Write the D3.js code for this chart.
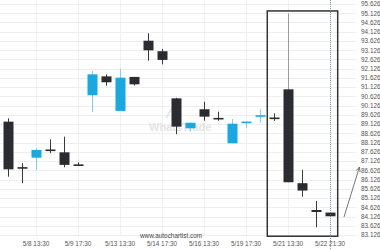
<!DOCTYPE html>
<html><head><meta charset="utf-8">
<script src="https://cdn.jsdelivr.net/npm/d3@7"></script>
<style>html,body{margin:0;padding:0;background:#fff;}svg{display:block;}</style>
</head><body><svg id="c" width="380" height="250"></svg>
<script>
const openV  = [89.26,86.76,87.31,87.72,87.60,86.93,90.69,91.71,89.84,91.68,93.64,93.07,90.52,88.90,89.93,89.43,88.09,89.21,89.55,89.45,91.01,85.93,84.48,84.34];
const highV  = [89.44,87.01,87.83,88.30,88.45,87.06,92.00,91.82,92.11,91.68,94.04,93.19,90.55,89.21,90.34,89.80,89.40,89.26,89.95,89.71,95.12,86.65,84.97,84.34];
const lowV   = [86.28,85.93,86.64,87.55,86.79,86.86,89.77,91.21,89.84,91.21,92.56,92.36,88.58,88.72,89.31,89.31,88.09,88.90,89.20,89.30,85.98,85.20,83.55,84.14];
const closeV = [86.68,86.75,87.73,87.70,86.92,86.88,91.82,91.39,91.64,91.28,93.12,92.60,88.99,89.20,89.53,89.41,89.15,89.23,89.58,89.43,85.98,85.53,84.37,84.14];
const yTicks = [95.626,95.126,94.626,94.126,93.626,93.126,92.626,92.126,91.626,91.126,90.626,90.126,89.626,89.126,88.626,88.126,87.626,87.126,86.626,86.126,85.626,85.126,84.626,84.126,83.626,83.126];
const xTickIdx = [2,5,8,11,14,17,20,23];
const xTickLabels = ["5/8 13:30","5/9 17:30","5/13 13:30","5/14 17:30","5/16 13:30","5/19 17:30","5/21 13:30","5/22 21:30"];
const boxFrom = 18.52, boxTo = 23.55; // candle index span of pattern box
const boxHigh = 95.25, boxLow = 83.06;
const arrowFrom = [24.0, 84.10], arrowTo = [25.1, 86.80];

const svg = d3.select("#c");
const x = d3.scaleLinear().domain([0,23]).range([8,330]);
const y = d3.scaleLinear().domain([83.126,95.626]).range([235,4]);
const font = "Liberation Sans, Arial, sans-serif";

// grid
svg.append("g").selectAll("line").data(yTicks).join("line")
  .attr("x1",0).attr("x2",356).attr("y1",d=>Math.round(y(d))+0.5).attr("y2",d=>Math.round(y(d))+0.5)
  .attr("stroke","#efefef").attr("stroke-width",1);
svg.append("g").selectAll("line").data(xTickIdx).join("line")
  .attr("x1",d=>Math.round(x(d))+0.5).attr("x2",d=>Math.round(x(d))+0.5).attr("y1",0).attr("y2",236)
  .attr("stroke","#efefef").attr("stroke-width",1);

// watermark
const wm = svg.append("g").attr("opacity",0.9);
wm.append("path").attr("d","M166,118 L172,108 L178,118 M170,112 L176,104").attr("fill","none").attr("stroke","#d6ecf7").attr("stroke-width",2);
wm.append("text").attr("x",149).attr("y",131).attr("font-family",font).attr("font-size",11).attr("font-weight","bold")
  .attr("fill","#e2e2e2").text("WhatsTrade");

// y labels
svg.append("g").selectAll("text").data(yTicks).join("text")
  .attr("x",361).attr("y",d=>y(d)+2.3).attr("font-family",font).attr("font-size",6.4).attr("fill","#555")
  .text(d=>d.toFixed(3));
// x labels
svg.append("g").selectAll("text").data(xTickIdx).join("text")
  .attr("x",d=>x(d)).attr("y",246).attr("text-anchor","middle").attr("font-family",font).attr("font-size",6.4).attr("fill","#555")
  .text((d,i)=>xTickLabels[i]);
svg.append("text").attr("x",171).attr("y",238).attr("text-anchor","middle").attr("font-family",font).attr("font-size",6.4)
  .attr("fill","#444").text("www.autochartist.com");

// candles
const idx = d3.range(openV.length);
const dark = "#2b2c31", blue = "#1ba8e1";
const isBlue = i => closeV[i] > openV[i];
const g = svg.append("g");
g.selectAll("line.w").data(idx).join("line").attr("class","w")
  .attr("x1",i=>Math.round(x(i))+0.5).attr("x2",i=>Math.round(x(i))+0.5)
  .attr("y1",i=>y(highV[i])).attr("y2",i=>y(lowV[i]))
  .attr("stroke",i=>isBlue(i)?"#7fcdee":(i===20?"#9a9a9a":"#3a3a3a")).attr("stroke-width",1);
g.selectAll("rect.b").data(idx).join("rect").attr("class","b")
  .attr("x",i=>Math.round(x(i))-4.5).attr("width",10)
  .attr("y",i=>{const t=y(Math.max(openV[i],closeV[i])), b=y(Math.min(openV[i],closeV[i])); return b-t<1.6?(t+b)/2-0.8:t;})
  .attr("height",i=>Math.max(1.6,y(Math.min(openV[i],closeV[i]))-y(Math.max(openV[i],closeV[i]))))
  .attr("fill",i=>isBlue(i)?blue:dark);

// pattern box
svg.append("rect").attr("x",x(boxFrom)).attr("y",y(boxHigh)).attr("width",x(boxTo)-x(boxFrom)).attr("height",y(boxLow)-y(boxHigh))
  .attr("fill","none").attr("stroke","#333").attr("stroke-width",1.5);
// time marker
svg.append("line").attr("x1",Math.round(x(23))+0.5).attr("x2",Math.round(x(23))+0.5).attr("y1",0).attr("y2",250)
  .attr("stroke","#5f8d93").attr("stroke-width",0.8).attr("stroke-dasharray","1,1");

// forecast arrow
const ax1 = x(arrowFrom[0]), ay1 = y(arrowFrom[1]), ax2 = x(arrowTo[0]), ay2 = y(arrowTo[1]);
svg.append("line").attr("x1",ax1).attr("y1",ay1).attr("x2",ax2).attr("y2",ay2).attr("stroke","#666").attr("stroke-width",0.9);
const ang = Math.atan2(ay2-ay1, ax2-ax1);
const hl = 5;
svg.append("path").attr("d",`M${ax2+hl*Math.cos(ang+2.7)},${ay2+hl*Math.sin(ang+2.7)} L${ax2},${ay2} L${ax2+hl*Math.cos(ang-2.7)},${ay2+hl*Math.sin(ang-2.7)}`)
  .attr("fill","none").attr("stroke","#666").attr("stroke-width",0.9);
</script></body></html>
